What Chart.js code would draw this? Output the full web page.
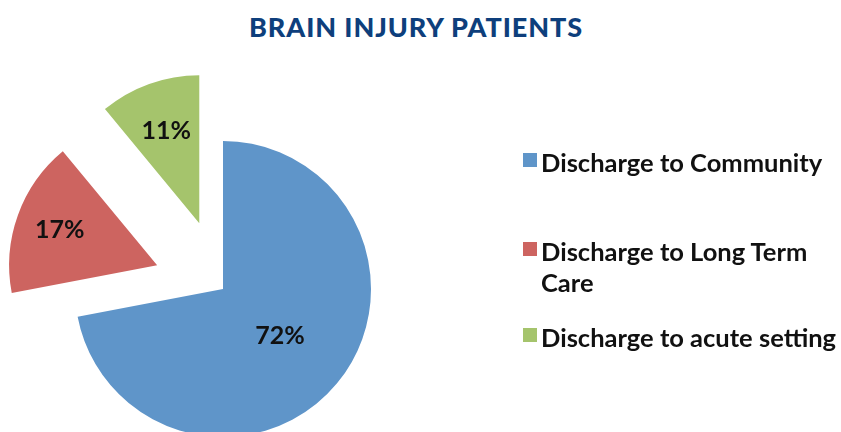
<!DOCTYPE html>
<html>
<head>
<meta charset="utf-8">
<script src="https://cdn.jsdelivr.net/npm/chart.js@4.4.0/dist/chart.umd.min.js"></script>
<style>
  html, body { margin: 0; padding: 0; background: #fff; width: 841px; height: 432px; overflow: hidden; }
  #title { position: absolute; left: 0; top: 10px; width: 832px; text-align: center;
           font: 900 27px Lato; color: #0e3f7c; letter-spacing: 0.9px; }
  #chart { position: absolute; left: 0; top: 0; }
  #legend { position: absolute; left: 523px; top: 147px; width: 318px; font: 700 25.5px Lato; color: #111; }
  .item { display: flex; align-items: flex-start; line-height: 31px; }
  .box { flex: none; width: 14px; height: 14px; margin: 6px 4px 0 0; }
</style>
</head>
<body>
<div id="title">BRAIN INJURY PATIENTS</div>
<canvas id="chart" width="841" height="578"></canvas>
<div id="legend"></div>
<script>
// chart data
var categories = ['Discharge to Community', 'Discharge to Long Term Care', 'Discharge to acute setting'];
var percents = [72, 17, 11];

// styling
var colors = ['#5f95c9', '#cd6460', '#a5c46c'];
var explode = [0, 70, 70];          // px each slice is pulled out
var labelRadius = [0.5, 0.7, 0.66];  // label distance as part of the radius
var itemGap = [0, 58, 24];           // space above each legend entry

// pull slices out along their middle angle
var explodePlugin = {
  id: 'explode',
  afterDatasetUpdate: function(chart, args) {
    args.meta.data.forEach(function(arc, i) {
      var d = explode[i];
      if (!d) return;
      var mid = (arc.startAngle + arc.endAngle) / 2;
      arc.x += Math.cos(mid) * d;
      arc.y += Math.sin(mid) * d;
    });
  }
};

// percent labels inside slices
var labelPlugin = {
  id: 'sliceLabels',
  afterDatasetsDraw: function(chart) {
    var ctx = chart.ctx;
    var meta = chart.getDatasetMeta(0);
    ctx.save();
    ctx.font = '700 25px Lato';
    ctx.fillStyle = '#111';
    ctx.textAlign = 'center';
    ctx.textBaseline = 'middle';
    meta.data.forEach(function(arc, i) {
      var mid = (arc.startAngle + arc.endAngle) / 2;
      var r = arc.outerRadius * labelRadius[i];
      ctx.fillText(percents[i] + '%', arc.x + Math.cos(mid) * r, arc.y + Math.sin(mid) * r);
    });
    ctx.restore();
  }
};

new Chart(document.getElementById('chart'), {
  type: 'pie',
  data: {
    labels: categories,
    datasets: [{
      data: percents,
      backgroundColor: colors,
      borderWidth: 0
    }]
  },
  options: {
    responsive: false,
    animation: false,
    events: [],
    radius: 148,
    layout: { padding: { left: 0, right: 395, top: 0, bottom: 0 } },
    plugins: {
      legend: { display: false },
      tooltip: { enabled: false }
    }
  },
  plugins: [explodePlugin, labelPlugin]
});

// legend on the right
var legend = document.getElementById('legend');
categories.forEach(function(name, i) {
  var item = document.createElement('div');
  item.className = 'item';
  item.style.marginTop = itemGap[i] + 'px';
  var box = document.createElement('div');
  box.className = 'box';
  box.style.background = colors[i];
  var text = document.createElement('div');
  text.textContent = name;
  item.appendChild(box);
  item.appendChild(text);
  legend.appendChild(item);
});
</script>
</body>
</html>
